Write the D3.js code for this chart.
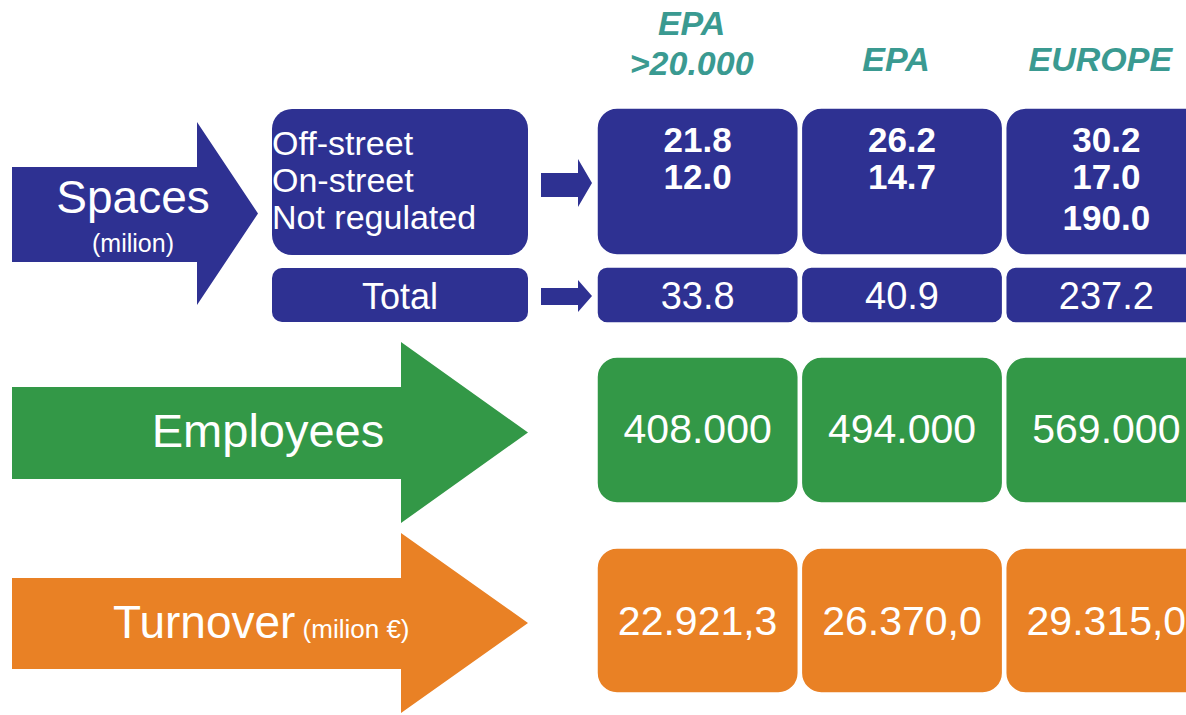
<!DOCTYPE html>
<html lang="en">
<head>
<meta charset="UTF-8">
<title>Parking sector figures</title>
<script src="https://d3js.org/d3.v7.min.js"></script>
<style>
  body { margin: 0; background: #fff; }
  text { font-family: "Liberation Sans", Arial, sans-serif; }
</style>
</head>
<body>
<script>
// data
var columns = ["EPA >20.000", "EPA", "EUROPE"];
var spaceRows = ["Off-street", "On-street", "Not regulated"];
var offStreet = [21.8, 26.2, 30.2];
var onStreet = [12.0, 14.7, 17.0];
var notRegulated = [null, null, 190.0];
var totals = [33.8, 40.9, 237.2];
var employees = [408000, 494000, 569000];
var turnover = [22921.3, 26370.0, 29315.0];

var navy = "#2e3192", green = "#339847", orange = "#e98125", teal = "#3a9a91";

var it = d3.formatLocale({decimal: ",", thousands: ".", grouping: [3], currency: ["", "€"]});
var fmtSpace = d3.format(".1f");
var fmtEmp = it.format(",");
var fmtTurn = it.format(",.1f");

var svg = d3.select("body").append("svg")
  .attr("width", 1186)
  .attr("height", 715);

var x = d3.scaleBand()
  .domain(columns)
  .range([597, 1207])
  .paddingInner(0.015);

// column headers
var head = svg.selectAll(".hdr")
  .data(columns)
  .enter().append("text")
  .attr("class", "hdr")
  .attr("x", function(d) { return x(d) + x.bandwidth() / 2 - 6; })
  .attr("text-anchor", "middle")
  .attr("fill", teal)
  .style("font-size", "34px")
  .style("font-weight", "bold")
  .style("font-style", "italic");

head.each(function(d) {
  var parts = d.split(" ");
  var t = d3.select(this);
  if (parts.length > 1) {
    t.append("tspan").attr("x", t.attr("x")).attr("y", 35).text(parts[0]);
    t.append("tspan").attr("x", t.attr("x")).attr("y", 75).text(parts[1]);
  } else {
    t.attr("y", 71).text(d);
  }
});

function arrow(x0, x1, x2, yTop, yBot, hTop, hBot) {
  var yc = (hTop + hBot) / 2;
  return "M" + x0 + "," + yTop + "L" + x1 + "," + yTop + "L" + x1 + "," + hTop +
    "L" + x2 + "," + yc + "L" + x1 + "," + hBot + "L" + x1 + "," + yBot +
    "L" + x0 + "," + yBot + "Z";
}

// big arrows
svg.append("path").attr("d", arrow(12, 197, 258, 167, 262, 122, 305)).attr("fill", navy);
svg.append("path").attr("d", arrow(12, 401, 528, 387, 479, 342, 523)).attr("fill", green);
svg.append("path").attr("d", arrow(12, 401, 528, 578, 669, 533, 713)).attr("fill", orange);

// small arrows
svg.append("path").attr("d", arrow(541, 578, 592, 173, 197, 159, 207)).attr("fill", navy);
svg.append("path").attr("d", arrow(541, 578, 592, 288, 305, 280, 312)).attr("fill", navy);

// arrow labels
svg.append("text").attr("x", 133).attr("y", 213).attr("text-anchor", "middle")
  .attr("fill", "#fff").style("font-size", "46px").text("Spaces");
svg.append("text").attr("x", 133).attr("y", 252).attr("text-anchor", "middle")
  .attr("fill", "#fff").style("font-size", "25px").text("(milion)");
svg.append("text").attr("x", 268).attr("y", 447).attr("text-anchor", "middle")
  .attr("fill", "#fff").style("font-size", "47px").text("Employees");
var tv = svg.append("text").attr("x", 113).attr("y", 638)
  .attr("fill", "#fff").style("font-size", "46px");
tv.append("tspan").text("Turnover");
tv.append("tspan").style("font-size", "26px").text(" (milion €)");

// left boxes
svg.append("rect").attr("x", 272).attr("y", 109).attr("width", 256).attr("height", 146)
  .attr("rx", 20).attr("fill", navy);
svg.append("rect").attr("x", 272).attr("y", 268).attr("width", 256).attr("height", 54)
  .attr("rx", 10).attr("fill", navy);

svg.selectAll(".srow")
  .data(spaceRows)
  .enter().append("text")
  .attr("class", "srow")
  .attr("x", 272)
  .attr("y", function(d, i) { return 155 + i * 37; })
  .attr("fill", "#fff")
  .style("font-size", "34px")
  .text(function(d) { return d; });

svg.append("text").attr("x", 400).attr("y", 309).attr("text-anchor", "middle")
  .attr("fill", "#fff").style("font-size", "36px").text("Total");

// value boxes
function boxes(cls, y, h, rx, color) {
  svg.selectAll("." + cls)
    .data(columns)
    .enter().append("rect")
    .attr("class", cls)
    .attr("x", function(d) { return x(d); })
    .attr("y", y)
    .attr("width", x.bandwidth())
    .attr("height", h)
    .attr("rx", rx)
    .attr("fill", color)
    .attr("stroke", "#fff")
    .attr("stroke-width", 1.5);
}
boxes("bsp", 108, 147, 20, navy);
boxes("btot", 267, 56, 10, navy);
boxes("bemp", 357, 146, 20, green);
boxes("btur", 548, 145, 20, orange);

function values(cls, arr, y, size, weight, fmt) {
  svg.selectAll("." + cls)
    .data(arr)
    .enter().append("text")
    .attr("class", cls)
    .attr("x", function(d, i) { return x(columns[i]) + x.bandwidth() / 2; })
    .attr("y", y)
    .attr("text-anchor", "middle")
    .attr("fill", "#fff")
    .style("font-size", size + "px")
    .style("font-weight", weight)
    .text(function(d) { return d == null ? "" : fmt(d); });
}
values("voff", offStreet, 152, 35, "bold", fmtSpace);
values("von", onStreet, 189, 35, "bold", fmtSpace);
values("vnr", notRegulated, 230, 35, "bold", fmtSpace);
values("vtot", totals, 309, 38, "normal", fmtSpace);
values("vemp", employees, 443, 41, "normal", fmtEmp);
values("vtur", turnover, 635, 41, "normal", fmtTurn);
</script>
</body>
</html>
